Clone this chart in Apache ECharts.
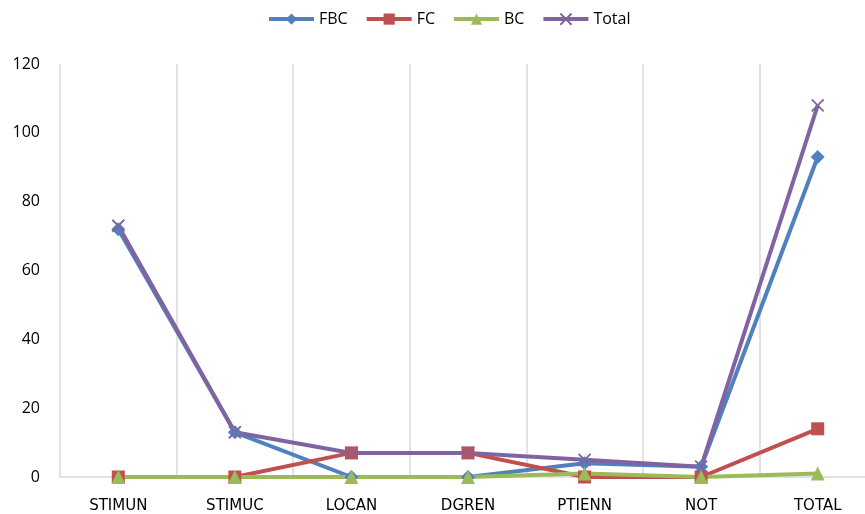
<!DOCTYPE html>
<html>
<head>
<meta charset="utf-8">
<script src="https://cdn.jsdelivr.net/npm/echarts@6/dist/echarts.min.js"></script>
<style>
html,body{margin:0;padding:0;background:#fff;overflow:hidden;}
#chart{width:876px;height:514px;}
</style>
</head>
<body>
<div id="chart"></div>
<script>
// Categories along the x axis
const categories = ['STIMUN', 'STIMUC', 'LOCAN', 'DGREN', 'PTIENN', 'NOT', 'TOTAL'];

// Series values
const fbc   = [72, 13, 0, 0, 4, 3, 93];
const fc    = [0, 0, 7, 7, 0, 0, 14];
const bc    = [0, 0, 0, 0, 1, 0, 1];
const total = [73, 13, 7, 7, 5, 3, 108];

// Y axis ticks
const yMin = 0, yMax = 120, yStep = 20;

const font = '"Open Sans", "Liberation Sans", sans-serif';
const crossPath = 'path://M0,0L10,10M10,0L0,10';

function lineSeries(name, data, color, symbol, size, extra) {
  return Object.assign({
    name: name,
    type: 'line',
    data: data,
    symbol: symbol,
    symbolSize: size,
    lineStyle: { color: color, width: 4 },
    itemStyle: { color: color },
    emphasis: { disabled: true },
    animation: false
  }, extra || {});
}

const chart = echarts.init(document.getElementById('chart'), null, { renderer: 'canvas' });
chart.setOption({
  backgroundColor: '#ffffff',
  legend: {
    top: 6,
    left: 262,
    itemWidth: 45,
    itemHeight: 14,
    itemGap: 17,
    lineStyle: { width: 4 },
    textStyle: { fontFamily: font, fontSize: 16, color: '#000' },
    data: ['FBC', 'FC', 'BC', 'Total']
  },
  grid: { left: 60, top: 64, right: 0, bottom: 37, containLabel: false },
  xAxis: {
    type: 'category',
    data: categories,
    boundaryGap: true,
    axisLine: { lineStyle: { color: '#d9d9d9', width: 1.5 } },
    axisTick: { show: false },
    splitLine: { show: true, lineStyle: { color: '#d9d9d9', width: 1.5 } },
    axisLabel: { fontFamily: '"DejaVu Sans", sans-serif', fontSize: 15, color: '#000', margin: 22, interval: 0 }
  },
  yAxis: {
    type: 'value',
    min: yMin,
    max: yMax,
    interval: yStep,
    axisLine: { show: false },
    axisTick: { show: false },
    splitLine: { show: false },
    axisLabel: { fontFamily: font, fontSize: 16, color: '#000', margin: 20 }
  },
  series: [
    lineSeries('FBC', fbc, '#4f81bd', 'diamond', 14),
    lineSeries('FC', fc, '#c0504d', 'rect', 13),
    lineSeries('BC', bc, '#9bbb59', 'triangle', 14),
    lineSeries('Total', total, '#8064a2', crossPath, 12, {
      itemStyle: { color: 'none', borderColor: '#8064a2', borderWidth: 1.8 }
    })
  ]
});
</script>
</body>
</html>
